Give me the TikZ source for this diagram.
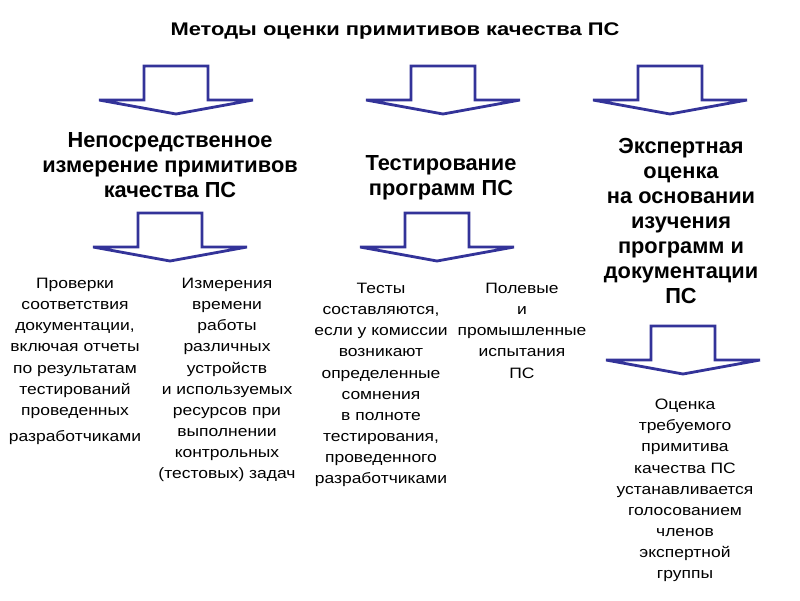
\documentclass[tikz,border=0pt]{standalone}
\usepackage{fontspec}
\setmainfont{Liberation Sans}
\newfontfamily\widetitle[FakeStretch=1.2]{Liberation Sans}
\newfontfamily\widebody[FakeStretch=1.16]{Liberation Sans}
\definecolor{arrowblue}{RGB}{51,51,153}
\tikzset{
    titletext/.style={inner sep=0pt,anchor=base,font=\widetitle\fontsize{13}{16}\selectfont\bfseries},
    heading/.style={align=center,inner sep=0pt,anchor=north,font=\fontsize{15.5}{17.8}\selectfont\bfseries},
    bodytext/.style={align=center,inner sep=0pt,anchor=north,font=\widebody\fontsize{10.7}{15}\selectfont},
    blockarrow/.style={draw=arrowblue,fill=white,line width=2pt}
}
\begin{document}
\begin{tikzpicture}[x=0.025cm,y=-0.025cm]
    \useasboundingbox (0,0) rectangle (800,600);

    \node[titletext] (title) at (395,35)
        {Методы оценки примитивов качества ПС};

    % block arrows: centre of shaft / top of shaft
    \foreach \cx/\ty in {176/66,443/66,670/66,170/213,437/213,683/326}{
        \draw[blockarrow] (\cx-32,\ty) -- (\cx+32,\ty) -- (\cx+32,\ty+34)
            -- (\cx+77,\ty+34) -- (\cx,\ty+48) -- (\cx-77,\ty+34)
            -- (\cx-32,\ty+34) -- cycle;
    }

    \node[heading] (direct) at (170,132)
        {Непосредственное\\ измерение примитивов\\ качества ПС};
    \node[heading] (testing) at (441,155)
        {Тестирование\\ программ ПС};
    \node[heading] (expert) at (681,138)
        {Экспертная\\ оценка\\ на основании\\ изучения\\ программ и\\
         документации\\ ПС};

    \node[bodytext] (checks) at (75,278)
        {Проверки\\ соответствия\\ документации,\\ включая отчеты\\
         по результатам\\ тестирований\\ проведенных\\[4pt] разработчиками};
    \node[bodytext] (measure) at (227,278)
        {Измерения\\ времени\\ работы\\ различных\\ устройств\\
         и используемых\\ ресурсов при\\ выполнении\\ контрольных\\
         (тестовых) задач};
    \node[bodytext] (tests) at (381,283)
        {Тесты\\ составляются,\\ если у комиссии\\ возникают\\
         определенные\\ сомнения\\ в полноте\\ тестирования,\\
         проведенного\\ разработчиками};
    \node[bodytext] (field) at (522,283)
        {Полевые\\ и\\ промышленные\\ испытания\\ ПС};
    \node[bodytext] (vote) at (685,399)
        {Оценка\\ требуемого\\ примитива\\ качества ПС\\
         устанавливается\\ голосованием\\ членов\\ экспертной\\ группы};
\end{tikzpicture}
\end{document}
